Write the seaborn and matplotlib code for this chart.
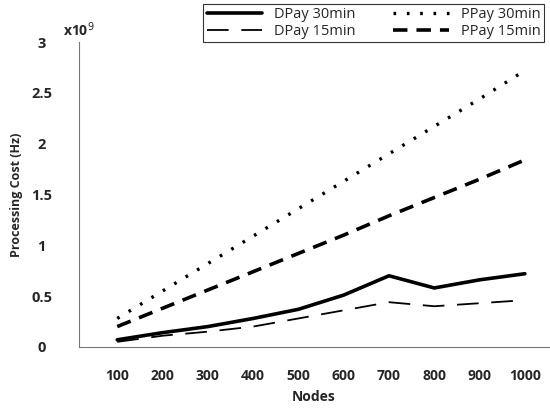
import pandas as pd
import matplotlib
matplotlib.use("Agg")
import matplotlib.pyplot as plt
import seaborn as sns

# -------------------------
# Data (processing cost in units of 1e9 Hz)
# -------------------------
nodes = [100, 200, 300, 400, 500, 600, 700, 800, 900, 1000]
dpay_30 = [0.07, 0.14, 0.20, 0.28, 0.37, 0.51, 0.70, 0.58, 0.66, 0.72]
dpay_15 = [0.05, 0.11, 0.15, 0.20, 0.28, 0.36, 0.44, 0.40, 0.43, 0.46]
ppay_30 = [0.28, 0.55, 0.82, 1.09, 1.36, 1.63, 1.90, 2.17, 2.44, 2.72]
ppay_15 = [0.20, 0.38, 0.56, 0.74, 0.92, 1.10, 1.29, 1.47, 1.65, 1.84]
y_ticks = [0, 0.5, 1, 1.5, 2, 2.5, 3]
y_tick_labels = ["0", "0.5", "1", "1.5", "2", "2.5", "3"]

series = {
    "DPay 30min": dpay_30,
    "DPay 15min": dpay_15,
    "PPay 30min": ppay_30,
    "PPay 15min": ppay_15,
}
styles = {
    "DPay 30min": dict(linewidth=2.6, linestyle="-"),
    "DPay 15min": dict(linewidth=1.3, dashes=(12, 7)),
    "PPay 30min": dict(linewidth=2.4, dashes=(0.8, 3.2)),
    "PPay 15min": dict(linewidth=2.6, dashes=(4, 2.5)),
}

df = pd.DataFrame({"Nodes": nodes, **series})

sns.set_style("white")
plt.rcParams["font.family"] = ["Open Sans", "DejaVu Sans"]

fig = plt.figure(figsize=(5.5, 4.12), dpi=100)
ax = fig.add_axes([0.144, 0.158, 0.854, 0.74])

for name in series:
    sns.lineplot(data=df, x="Nodes", y=name, ax=ax, color="black",
                 label=name, **styles[name])

ax.set_xlim(16, 1053)
ax.set_ylim(0, 3)
ax.set_xticks(nodes)
ax.set_xticklabels([str(n) for n in nodes], fontsize=10, fontweight="bold")
ax.set_yticks(y_ticks)
ax.set_yticklabels(y_tick_labels, fontsize=10.5, fontweight="bold")
ax.tick_params(axis="both", length=0)
ax.tick_params(axis="x", pad=16)
ax.tick_params(axis="y", pad=27)
for lab in ax.get_yticklabels():
    lab.set_horizontalalignment("center")

for side in ["top", "right"]:
    ax.spines[side].set_visible(False)
for side in ["left", "bottom"]:
    ax.spines[side].set_color("#777777")
    ax.spines[side].set_linewidth(0.8)

ax.set_xlabel("Nodes", fontsize=10, fontweight="bold", labelpad=5)
ax.set_ylabel("Processing Cost (Hz)", fontsize=9, fontweight="bold")
ax.yaxis.set_label_coords(-0.12, 0.5)

ax.text(-0.035, 1.01, "x10$^9$", transform=ax.transAxes, fontsize=10,
        fontweight="bold", ha="left", va="bottom")

leg = ax.legend(loc="upper right", bbox_to_anchor=(1.005, 1.15), ncol=2,
                frameon=True, fontsize=10.5, handlelength=3.8, columnspacing=2.6,
                borderpad=0.25, labelspacing=0.1, fancybox=False)
leg.get_frame().set_edgecolor("black")
leg.get_frame().set_linewidth(0.8)

fig.savefig("out.png", dpi=100)
